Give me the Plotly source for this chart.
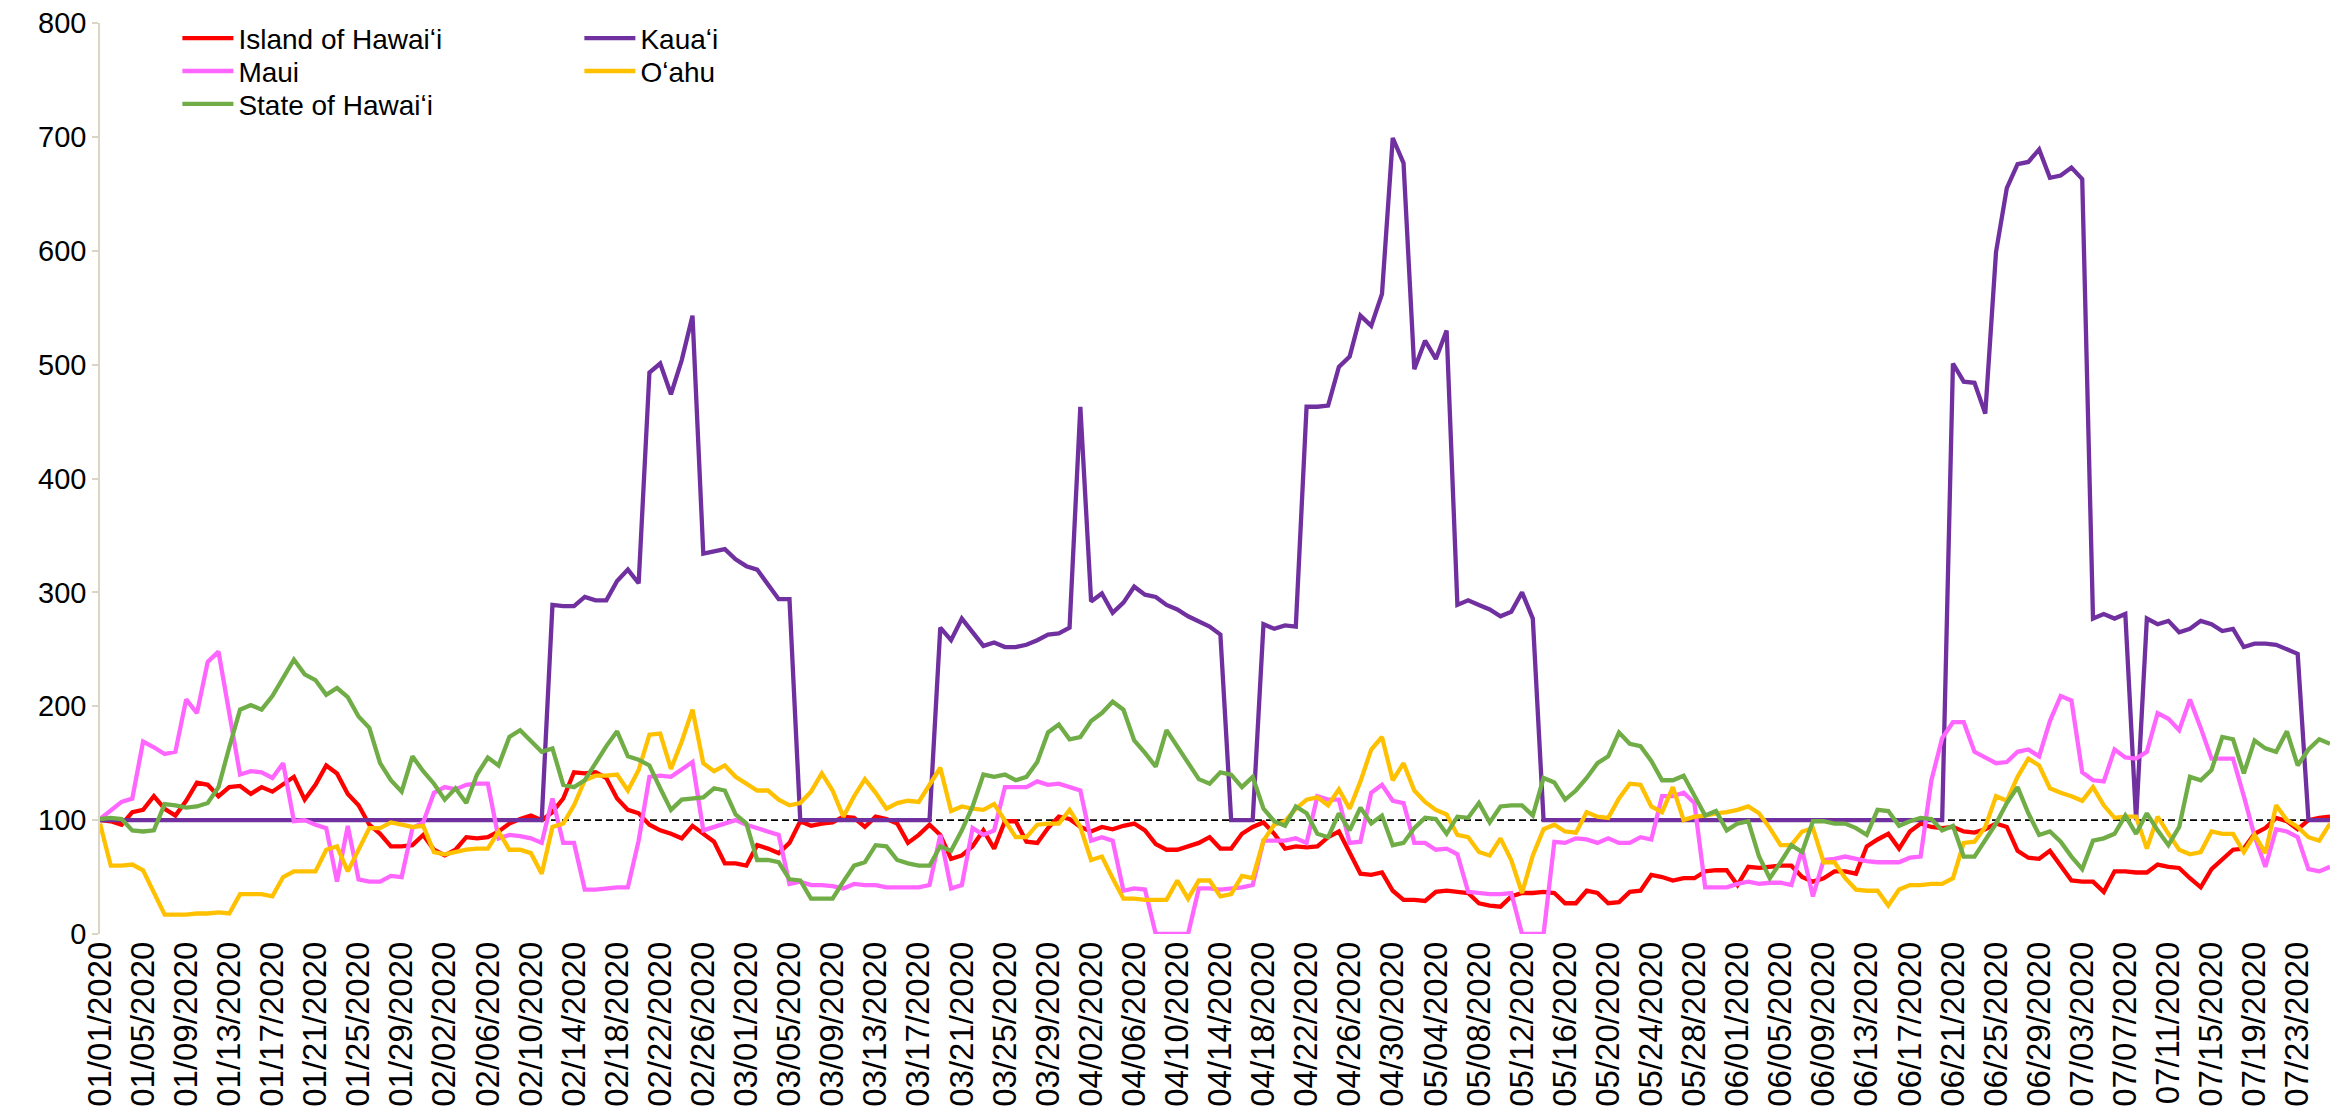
import pandas as pd
import plotly.graph_objects as go

dates = [d.strftime("%m/%d/%Y") for d in pd.date_range("2020-01-01", periods=208, freq="D")]
tick_labels = dates[::4]

island_of_hawaii = [
    100, 99, 96, 107, 109, 121, 110, 104, 117, 133, 131, 121, 129, 130, 123, 129, 125, 131, 138, 118, 131, 148, 141, 123, 113, 96,
    88, 77, 77, 78, 87, 74, 69, 74, 85, 84, 85, 90, 97, 101, 104, 100, 107, 119, 142, 141, 142, 137, 119, 109, 106, 96, 91,
    88, 84, 95, 88, 81, 62, 62, 60, 78, 75, 71, 80, 99, 95, 97, 98, 103, 102, 94, 103, 101, 97, 80, 87, 96, 87, 66,
    69, 77, 91, 75, 99, 99, 81, 80, 93, 103, 101, 94, 90, 94, 92, 95, 97, 91, 79, 74, 74, 77, 80, 85, 75, 75,
    88, 94, 98, 88, 75, 77, 76, 77, 85, 90, 71, 53, 52, 54, 38, 30, 30, 29, 37, 38, 37, 36, 27, 25, 24, 33,
    36, 36, 37, 36, 27, 27, 38, 36, 27, 28, 37, 38, 52, 50, 47, 49, 49, 55, 56, 56, 43, 59, 58, 59, 60, 60, 50,
    46, 49, 55, 55, 53, 77, 83, 88, 75, 90, 97, 94, 93, 94, 90, 89, 92, 97, 94, 73, 67, 66, 73, 60, 47, 46, 46,
    37, 55, 55, 54, 54, 61, 59, 58, 49, 41, 57, 66, 74, 75, 88, 93, 102, 99, 92, 100, 102, 103,
]

kauai = [
    100, 100, 100, 100, 100, 100, 100, 100, 100, 100, 100, 100, 100, 100, 100, 100, 100, 100, 100, 100, 100,
    100, 100, 100, 100, 100, 100, 100, 100, 100, 100, 100, 100, 100, 100, 100, 100, 100, 100, 100, 100, 100,
    289, 288, 288, 296, 293, 293, 310, 320, 308, 493, 501, 474, 504, 543, 334, 336, 338, 329, 323, 320, 307, 294, 294,
    100, 100, 100, 100, 100, 100, 100, 100, 100, 100, 100, 100, 100,
    269, 258, 277, 265, 253, 256, 252, 252, 254, 258, 263, 264, 269, 463, 292, 299, 282, 291, 305, 298, 296, 289, 285, 279, 274, 270, 263,
    100, 100, 100,
    272, 268, 271, 270, 463, 463, 464, 498, 507, 543, 534, 562, 699, 677, 496, 521, 505, 530, 289, 293, 289, 285, 279, 283, 300, 277,
    100, 100, 100, 100, 100, 100, 100, 100, 100, 100, 100, 100, 100, 100, 100, 100, 100, 100, 100,
    100, 100, 100, 100, 100, 100, 100, 100, 100, 100, 100, 100, 100, 100, 100, 100, 100, 100, 100,
    501, 485, 484, 457, 599, 655, 676, 678, 689, 664, 666, 673, 663,
    277, 281, 277, 281, 100,
    277, 272, 275, 265, 268, 275, 272, 266, 268, 252, 255, 255, 254, 250, 246,
    100, 100, 100,
]

maui = [
    101, 109, 116, 119, 169, 164, 158, 160, 206, 194, 239, 248, 192, 140, 143, 142, 137, 150, 99, 100, 96, 93, 46, 95, 48, 46,
    46, 51, 50, 93, 98, 124, 129, 127, 131, 132, 132, 84, 87, 86, 84, 80, 119, 80, 80, 39, 39, 40, 41, 41, 82, 138, 139,
    138, 145, 151, 91, 94, 97, 100, 96, 93, 90, 87, 44, 46, 43, 43, 42, 40, 44, 43, 43, 41, 41, 41, 41, 43, 87, 40,
    43, 93, 87, 91, 129, 129, 129, 134, 131, 132, 129, 126, 82, 85, 82, 38, 40, 39, 0, 0, 0, 0, 40, 40, 39, 40,
    41, 43, 82, 82, 82, 84, 80, 121, 118, 118, 80, 81, 124, 131, 117, 115, 80, 80, 74, 75, 70, 37, 36, 35, 35, 36,
    0, 0, 0, 81, 80, 84, 83, 80, 84, 80, 80, 85, 83, 121, 121, 124, 115, 41, 41, 41, 44, 46, 44, 45, 45, 43, 74,
    33, 65, 66, 68, 66, 64, 63, 63, 63, 67, 68, 135, 172, 186, 186, 160, 155, 150, 151, 160, 162, 156, 187, 209, 205, 142, 135,
    134, 162, 155, 154, 160, 194, 189, 179, 206, 181, 154, 154, 154, 121, 86, 59, 92, 90, 85, 57, 55, 59,
]

oahu = [
    97, 60, 60, 61, 56, 37, 17, 17, 17, 18, 18, 19, 18, 35, 35, 35, 33, 50, 55, 55, 55, 74, 77, 55, 74, 93,
    93, 98, 96, 94, 95, 72, 70, 72, 74, 75, 75, 90, 74, 74, 71, 53, 94, 97, 113, 135, 139, 139, 140, 126, 144, 175, 176,
    145, 169, 197, 150, 143, 148, 138, 132, 126, 126, 118, 113, 115, 125, 141, 126, 103, 121, 136, 124, 110, 115, 117, 116, 131, 146, 108,
    112, 110, 109, 114, 99, 85, 85, 96, 97, 97, 109, 94, 65, 68, 49, 31, 31, 30, 30, 30, 47, 31, 47, 47, 33, 35,
    51, 49, 82, 96, 99, 110, 118, 120, 113, 127, 110, 134, 162, 173, 135, 150, 126, 116, 109, 105, 87, 85, 72, 69, 84, 65,
    36, 69, 92, 96, 90, 89, 107, 103, 102, 119, 132, 131, 112, 107, 129, 100, 103, 104, 106, 107, 109, 112, 106, 93, 78, 78, 90,
    93, 63, 63, 49, 39, 38, 38, 25, 39, 43, 43, 44, 44, 49, 80, 81, 94, 121, 117, 138, 154, 148, 128, 124, 121, 117, 129,
    113, 102, 103, 103, 75, 103, 88, 74, 70, 72, 90, 88, 88, 72, 87, 71, 113, 100, 94, 85, 82, 97,
]

state_of_hawaii = [
    101, 102, 101, 91, 90, 91, 114, 113, 111, 112, 115, 129, 164, 197, 201, 197, 209, 225, 241, 228, 223, 210, 216, 208, 191, 181,
    150, 135, 125, 156, 143, 132, 118, 128, 115, 140, 155, 148, 173, 179, 169, 160, 163, 131, 129, 135, 150, 165, 178, 156, 153, 148, 128,
    109, 118, 119, 120, 128, 126, 105, 97, 65, 65, 63, 48, 47, 31, 31, 31, 46, 60, 63, 78, 77, 65, 62, 60, 60, 77, 73,
    91, 112, 140, 138, 140, 135, 138, 151, 177, 184, 171, 173, 187, 194, 204, 197, 170, 159, 147, 179, 165, 150, 136, 132, 142, 140,
    129, 138, 110, 99, 95, 112, 106, 88, 85, 106, 91, 111, 97, 104, 78, 80, 93, 102, 101, 88, 103, 102, 115, 98, 112, 113,
    113, 104, 137, 133, 118, 126, 137, 150, 156, 177, 167, 165, 152, 135, 135, 139, 121, 104, 108, 91, 97, 99, 68, 49, 63, 78, 72,
    99, 99, 97, 97, 93, 87, 109, 108, 95, 99, 102, 101, 91, 95, 68, 68, 82, 97, 115, 129, 106, 87, 90, 81, 68, 57, 82,
    84, 88, 104, 88, 106, 91, 78, 94, 138, 135, 144, 173, 171, 141, 170, 163, 160, 178, 148, 162, 171, 167,
]

baseline = 100

series = [
    ("Island of Hawaiʻi", island_of_hawaii, "#FF0000", "legend"),
    ("Kauaʻi", kauai, "#7030A0", "legend"),
    ("Maui", maui, "#FF66FF", "legend2"),
    ("Oʻahu", oahu, "#FFC000", "legend2"),
    ("State of Hawaiʻi", state_of_hawaii, "#70AD47", "legend3"),
]
for name, vals, _, _ in series:
    assert len(vals) == len(dates), (name, len(vals))

FONT = "Liberation Sans Narrow, Arial Narrow, Liberation Sans, Arial, sans-serif"

fig = go.Figure()
for name, vals, color, leg in series:
    fig.add_trace(go.Scatter(
        x=dates, y=vals, name=name, mode="lines",
        line=dict(color=color, width=4.3),
        legend=leg,
    ))

fig.add_shape(type="line", xref="paper", yref="y", x0=0, x1=1, y0=baseline, y1=baseline,
              line=dict(color="black", width=1.6, dash="7px,4px"), layer="below")

leg_common = dict(orientation="h", xanchor="left", yanchor="middle", x=0.0347,
                  font=dict(family=FONT, size=28, color="black"),
                  bgcolor="rgba(0,0,0,0)", entrywidth=336, entrywidthmode="pixels",
                  itemwidth=51, traceorder="normal")

# the page body adds an 8px offset, so the figure is sized to sit inside the window
fig.update_layout(
    width=2323, height=1100,
    margin=dict(l=92, r=1, t=15, b=174),
    paper_bgcolor="white", plot_bgcolor="white",
    showlegend=True,
    legend=dict(y=0.983, **leg_common),
    legend2=dict(y=0.947, **leg_common),
    legend3=dict(y=0.911, **leg_common),
    xaxis=dict(
        type="category", range=[0, len(dates) - 1],
        tickmode="array", tickvals=tick_labels, ticktext=tick_labels,
        tickangle=-90, showgrid=False, zeroline=False, showline=False,
        ticks="", tickfont=dict(family=FONT, size=33, color="black"),
        automargin=False, ticklabeloverflow="allow",
    ),
    yaxis=dict(
        range=[0, 800], dtick=100, showgrid=False, zeroline=False,
        showline=True, linecolor="#D9D6C6", linewidth=1.5,
        ticks="outside", ticklen=6, tickcolor="#D9D6C6", tickwidth=1.5,
        tickfont=dict(family=FONT, size=29, color="black"),
        automargin=False, ticklabeloverflow="allow",
    ),
)

fig.write_html("out.html")
